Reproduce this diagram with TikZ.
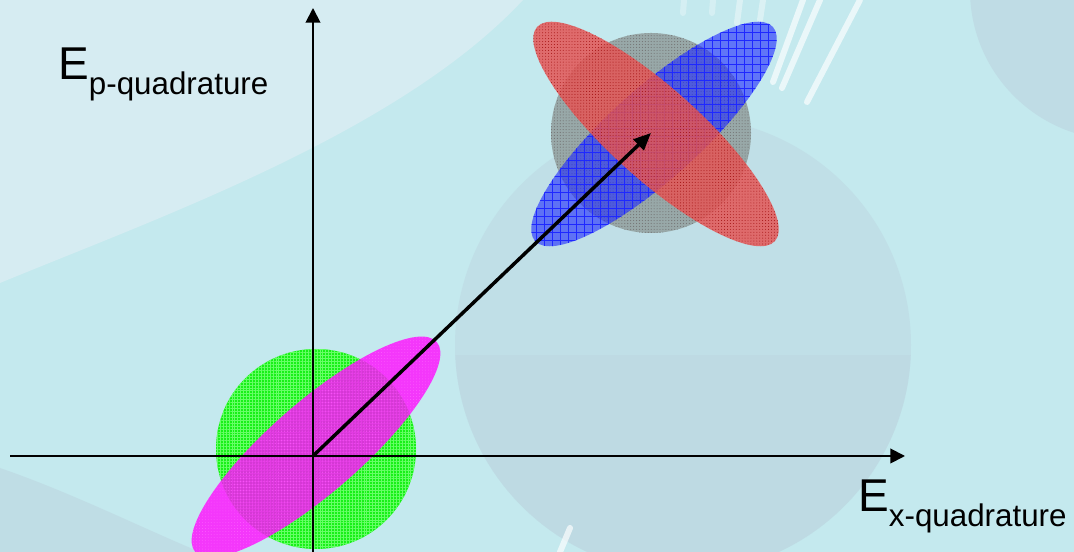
\documentclass[tikz,border=0pt]{standalone}
\usepackage{fontspec}
\setmainfont{Liberation Sans}
\usetikzlibrary{arrows.meta,shapes.geometric,patterns.meta}
\definecolor{bgbase}{HTML}{C4E9EE}
\definecolor{bglight}{HTML}{D6ECF2}
\definecolor{bgsphere}{HTML}{BCD4DF}
\definecolor{vacgreen}{HTML}{18F018}
\definecolor{sqzpink}{HTML}{FF10FF}
\definecolor{cohgray}{HTML}{98A8A8}
\definecolor{sqzred}{HTML}{E45656}
\definecolor{sqzblue}{HTML}{1E28FF}
\newcommand{\qsub}[1]{\raisebox{-11pt}{\fontsize{23.5}{28}\selectfont #1}}

\begin{document}
\begin{tikzpicture}[x=0.75pt, y=0.75pt,
    blob/.style={inner sep=0pt, outer sep=0pt},
    sqz/.style={blob, ellipse, minimum width=240pt, minimum height=68pt},
    axis/.style={-{Triangle[length=11pt,width=11pt]}, line width=1.4pt, black},
    vec/.style={-{Triangle[length=13pt,width=11pt]}, line width=2.6pt, black},
    lab/.style={anchor=base west, inner sep=0pt, font=\fontsize{34.5}{40}\selectfont},
    streak/.style={white, opacity=0.65, line width=4.5pt, line cap=round}
]
\path[use as bounding box, fill=bgbase] (0,0) rectangle (1074,552);
\fill[bglight] (0,269) .. controls (160,335) and (400,420) .. (523,552) -- (0,552) -- cycle;
\fill[bgsphere, opacity=0.55] (0,84) .. controls (70,60) and (140,25) .. (200,0) -- (0,0) -- cycle;
\begin{scope}
  \clip (683,207) circle (171pt);
  \fill[bgsphere, opacity=0.45] (400,0) rectangle (1000,450);
  \fill[bgsphere, opacity=0.45] (400,0) rectangle (1000,197);
\end{scope}
\fill[bgsphere, opacity=0.6] (1120,562) circle (112.5pt);
\draw[streak] (860,552) -- (807,450);
\draw[streak] (820,552) -- (782,464);
\draw[streak] (803,552) -- (773,470);
\draw[streak, opacity=0.4] (763,552) -- (760,532);
\draw[streak, opacity=0.4] (740,552) -- (737,529);
\draw[streak, opacity=0.3] (713,552) -- (712,539);
\draw[streak, opacity=0.3] (684,552) -- (683,539);
\draw[streak] (570,24) -- (560,0);

\node[blob, circle, minimum size=150pt, fill=vacgreen,
      postaction={pattern={Hatch[distance=2.2pt,line width=0.3pt]}, pattern color=green!60!white}] (vac) at (316,103) {};
\node[sqz, rotate=41, fill=sqzpink, fill opacity=0.82,
      postaction={pattern={Dots[distance=2.2pt,radius=0.35pt]}, pattern color=magenta!60!white}] (sqzamp) at (316,105) {};
\node[blob, circle, minimum size=150pt, fill=cohgray,
      postaction={pattern={Dots[distance=2.2pt,radius=0.42pt]}, pattern color=black!55}] (coh) at (651,419) {};
\node[sqz, rotate=42, fill=sqzblue, fill opacity=0.6,
      postaction={pattern={Hatch[distance=6pt,line width=0.6pt]}, pattern color=sqzblue}] (sqzph) at (654,418) {};
\node[sqz, rotate=-42, fill=sqzred, fill opacity=0.85,
      postaction={pattern={Dots[distance=2.2pt,radius=0.35pt]}, pattern color=red!60!black}] (sqzx) at (656,418) {};

\coordinate (o) at (313,96);
\coordinate (xl) at (10,96);
\coordinate (xr) at (905,96);
\coordinate (yb) at (313,0);
\coordinate (yt) at (313,544);
\draw[axis] (xl) -- (xr);
\draw[axis] (yb) -- (yt);
\draw[vec] (o) -- (coh.center);

\node[lab] (plab) at (58,472) {E\qsub{p-quadrature}};
\node[lab] (xlab) at (858,40) {E\qsub{x-quadrature}};
\end{tikzpicture}
\end{document}
